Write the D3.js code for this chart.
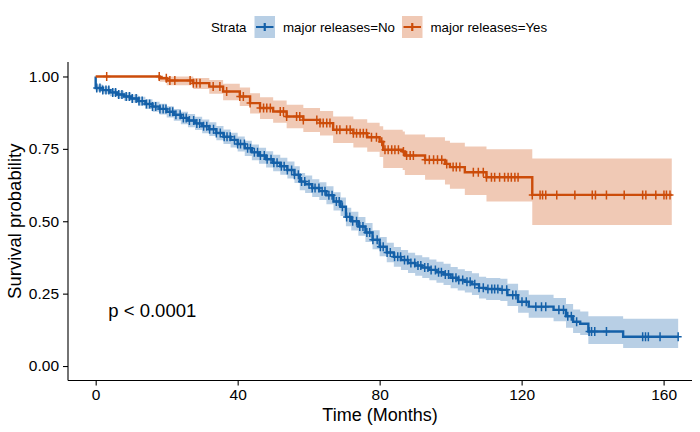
<!DOCTYPE html>
<html>
<head>
<meta charset="utf-8">
<script src="https://cdn.jsdelivr.net/npm/d3@7"></script>
<style>
  body { margin: 0; background: #fff; }
  svg { font-family: "Liberation Sans", Arial, sans-serif; }
</style>
</head>
<body>
<div id="chart"></div>
<script>
// Kaplan-Meier curves

const strataNames = ["major releases=No", "major releases=Yes"];
const strataColors = ["#1460a8", "#cc4c0a"];

// strata "No"
const noTime = [0, 0, 2, 4, 6, 8, 10, 12, 14, 16, 18, 20, 22, 24, 26, 28, 30, 32, 34, 36, 38, 40,
  42, 44, 46, 48, 50, 52, 54, 56, 57.5, 59, 61, 63, 65, 67, 69, 70.5, 72, 74, 76, 78, 80, 82, 84,
  86, 88, 90, 92, 94, 96, 98, 100, 102, 104, 106, 108, 110, 114, 116, 119, 122, 129, 132.5, 134.5,
  136.5, 138.8, 148.6];
const noSurv = [1.000, 0.960, 0.953, 0.945, 0.938, 0.931, 0.924, 0.915, 0.905, 0.896, 0.888, 0.878,
  0.868, 0.857, 0.848, 0.838, 0.828, 0.818, 0.805, 0.792, 0.781, 0.767, 0.752, 0.738, 0.727, 0.714,
  0.702, 0.690, 0.677, 0.661, 0.637, 0.628, 0.615, 0.604, 0.590, 0.568, 0.550, 0.515, 0.500, 0.482,
  0.461, 0.436, 0.412, 0.392, 0.377, 0.366, 0.356, 0.347, 0.340, 0.332, 0.324, 0.316, 0.305, 0.297,
  0.291, 0.282, 0.270, 0.266, 0.263, 0.245, 0.222, 0.205, 0.194, 0.172, 0.153, 0.146, 0.119, 0.101];
const noLower = [1.000, 0.948, 0.940, 0.932, 0.924, 0.916, 0.909, 0.899, 0.888, 0.878, 0.869, 0.858,
  0.847, 0.835, 0.825, 0.815, 0.804, 0.794, 0.780, 0.767, 0.755, 0.741, 0.725, 0.711, 0.699, 0.686,
  0.673, 0.661, 0.648, 0.632, 0.607, 0.598, 0.584, 0.573, 0.559, 0.537, 0.518, 0.483, 0.468, 0.450,
  0.428, 0.403, 0.379, 0.358, 0.343, 0.332, 0.321, 0.312, 0.304, 0.296, 0.288, 0.280, 0.269, 0.261,
  0.254, 0.245, 0.233, 0.228, 0.225, 0.207, 0.184, 0.167, 0.155, 0.132, 0.114, 0.107, 0.076, 0.062];
const noUpper = [1.000, 0.972, 0.965, 0.958, 0.951, 0.945, 0.938, 0.930, 0.921, 0.913, 0.906, 0.897,
  0.888, 0.878, 0.870, 0.861, 0.851, 0.842, 0.829, 0.817, 0.806, 0.793, 0.778, 0.765, 0.754, 0.742,
  0.730, 0.719, 0.706, 0.690, 0.667, 0.658, 0.645, 0.635, 0.621, 0.600, 0.582, 0.547, 0.533, 0.515,
  0.494, 0.469, 0.446, 0.426, 0.411, 0.401, 0.391, 0.383, 0.376, 0.368, 0.360, 0.353, 0.342, 0.334,
  0.328, 0.320, 0.308, 0.304, 0.301, 0.284, 0.262, 0.246, 0.235, 0.214, 0.195, 0.188, 0.172, 0.163];
const noEnd = 164.1;
const noCensor = [0.3, 1.2, 2.0, 2.9, 3.7, 4.8, 5.6, 6.5, 7.4, 8.6, 9.5, 10.3, 11.4, 12.2, 13.1, 14.3,
  15.2, 16.0, 16.9, 18.1, 19.0, 19.8, 20.9, 21.7, 22.6, 23.8, 24.7, 25.5, 26.4, 27.6, 28.5, 29.3,
  30.4, 31.3, 32.1, 33.2, 34.0, 35.1, 36.2, 37.0, 37.9, 39.1, 40.0, 40.8, 41.9, 42.8, 43.6, 44.7,
  45.6, 46.4, 47.5, 48.3, 49.4, 50.2, 51.1, 52.3, 53.1, 54.0, 55.2, 56.0, 57.1, 58.0, 58.9, 60.1,
  61.0, 61.8, 62.9, 63.8, 64.6, 65.7, 66.6, 67.8, 68.6, 69.5, 70.7, 71.6, 72.4, 73.5, 74.4, 75.3,
  76.4, 77.2, 78.1, 79.3, 80.2, 81.0, 82.1, 83.0, 84.2, 85.1, 85.9, 87.0, 87.9, 88.8, 89.9, 90.8,
  91.6, 92.7, 93.6, 94.5, 95.7, 96.6, 97.4, 98.5, 99.4, 100.6, 101.5, 102.3, 103.4, 104.6, 105.5,
  106.8, 108.0, 109.2, 110.5, 111.6, 112.4, 113.3, 114.5, 115.8, 117.5, 118.4, 120.1, 121.3, 124.0,
  125.6, 126.8, 130.5, 131.8, 133.0, 134.0, 135.5, 139.0, 139.7, 140.6, 143.9, 154.1, 154.9, 155.7,
  159.0, 164.1];

// strata "Yes"
const yesTime = [0, 18, 20, 27.5, 32, 35.9, 40.6, 43.5, 46.3, 50, 53.8, 58.5, 63.2, 66.9, 72.6, 76.5,
  80, 81, 86.5, 87.1, 92.8, 98.4, 99.8, 104, 110.1, 123];
const yesSurv = [1.000, 0.994, 0.986, 0.977, 0.965, 0.948, 0.931, 0.908, 0.891, 0.879, 0.862, 0.850,
  0.839, 0.816, 0.804, 0.790, 0.775, 0.747, 0.741, 0.727, 0.712, 0.698, 0.687, 0.669, 0.652, 0.591];
const yesLower = [1.000, 0.982, 0.970, 0.957, 0.940, 0.918, 0.898, 0.872, 0.853, 0.840, 0.821, 0.808,
  0.796, 0.770, 0.755, 0.740, 0.722, 0.684, 0.677, 0.660, 0.643, 0.627, 0.612, 0.591, 0.568, 0.487];
const yesUpper = [1.000, 1.000, 1.000, 0.995, 0.988, 0.975, 0.962, 0.942, 0.928, 0.917, 0.902, 0.891,
  0.881, 0.862, 0.852, 0.840, 0.828, 0.816, 0.810, 0.800, 0.790, 0.778, 0.771, 0.758, 0.749, 0.717];
const yesEnd = 162.3;
const yesCensor = [3.1, 17.9, 19.9, 20.9, 22.3, 26.6, 27.5, 28.4, 29.4, 33.1, 35.0, 36.9, 40.6, 41.6,
  43.5, 46.3, 47.3, 48.2, 49.2, 52.0, 52.9, 53.8, 56.6, 57.5, 58.5, 62.3, 63.2, 64.1, 65.1, 66.0,
  67.9, 68.8, 70.7, 71.7, 72.6, 73.5, 74.5, 75.4, 76.3, 77.7, 79.1, 80.6, 81.5, 82.4, 83.4, 84.3,
  85.3, 86.7, 87.6, 88.6, 89.5, 92.8, 94.0, 95.2, 96.3, 97.5, 98.9, 100.7, 101.6, 102.6, 106.4,
  107.8, 109.2, 110.1, 111.5, 112.4, 113.8, 115.2, 116.2, 117.1, 118.1, 119.0, 123.0, 125.2, 125.9,
  126.8, 129.9, 135.0, 139.9, 140.8, 143.9, 148.9, 154.1, 155.0, 157.8, 160.1, 160.8, 161.8];

const xTicks = [0, 40, 80, 120, 160];
const yTicks = [0, 0.25, 0.5, 0.75, 1];
const pLabel = "p < 0.0001";

const width = 700, height = 432;
const margin = { top: 62, right: 8, bottom: 51.5, left: 68 };

const svg = d3.select("#chart").append("svg")
  .attr("width", width)
  .attr("height", height);

const x = d3.scaleLinear().domain([-7.8, 168]).range([margin.left, width - margin.right]);
const y = d3.scaleLinear().domain([-0.05, 1.05]).range([height - margin.bottom, margin.top]);

function makeStrata(times, surv, lower, upper, end) {
  const pts = times.map((t, i) => ({ t: t, s: surv[i], lo: lower[i], hi: upper[i] }));
  const last = pts[pts.length - 1];
  pts.push({ t: end, s: last.s, lo: last.lo, hi: last.hi });
  return pts;
}

function survAt(pts, t) {
  let s = pts[0].s;
  pts.forEach((p) => { if (p.t <= t) s = p.s; });
  return s;
}

const strata = [
  { pts: makeStrata(noTime, noSurv, noLower, noUpper, noEnd), censor: noCensor },
  { pts: makeStrata(yesTime, yesSurv, yesLower, yesUpper, yesEnd), censor: yesCensor }
];

const band = d3.area()
  .x((d) => x(d.t))
  .y0((d) => y(d.lo))
  .y1((d) => y(d.hi))
  .curve(d3.curveStepAfter);

const line = d3.line()
  .x((d) => x(d.t))
  .y((d) => y(d.s))
  .curve(d3.curveStepAfter);

// confidence bands
strata.forEach((st, i) => {
  svg.append("path")
    .attr("d", band(st.pts))
    .attr("fill", strataColors[i])
    .attr("fill-opacity", 0.3);
});

// survival steps + censor marks
strata.forEach((st, i) => {
  svg.append("path")
    .attr("d", line(st.pts))
    .attr("fill", "none")
    .attr("stroke", strataColors[i])
    .attr("stroke-width", 2.4);

  const marks = svg.append("g");
  st.censor.forEach((t) => {
    const cx = x(t), cy = y(survAt(st.pts, t));
    marks.append("path")
      .attr("d", `M${cx - 3.5},${cy}H${cx + 3.5}M${cx},${cy - 4.5}V${cy + 4.5}`)
      .attr("stroke", strataColors[i])
      .attr("stroke-width", 1.5)
      .attr("fill", "none");
  });
});

// axes
const xAxis = svg.append("g")
  .attr("transform", `translate(0,${height - margin.bottom})`)
  .call(d3.axisBottom(x).tickValues(xTicks).tickSize(5).tickSizeOuter(0).tickPadding(3.5));
const yAxis = svg.append("g")
  .attr("transform", `translate(${margin.left},0)`)
  .call(d3.axisLeft(y).tickValues(yTicks).tickFormat(d3.format(".2f")).tickSize(5).tickSizeOuter(0).tickPadding(4));

[xAxis, yAxis].forEach((ax) => {
  ax.select(".domain").attr("stroke", "#000").attr("stroke-width", 1.1);
  ax.selectAll(".tick line").attr("stroke", "#000").attr("stroke-width", 1.1);
  ax.selectAll(".tick text")
    .attr("fill", "#000")
    .style("font-size", "15.5px")
    .style("font-family", "Liberation Sans, Arial, sans-serif");
});
// axis lines span the whole panel, as in ggplot
xAxis.select(".domain").attr("d", `M${margin.left},0H${width - margin.right}`);
yAxis.select(".domain").attr("d", `M0,${height - margin.bottom}V${margin.top}`);

svg.append("text")
  .attr("x", (margin.left + width - margin.right) / 2)
  .attr("y", 420.5)
  .attr("text-anchor", "middle")
  .style("font-size", "18px")
  .text("Time (Months)");

svg.append("text")
  .attr("transform", `translate(21,${(margin.top + height - margin.bottom) / 2}) rotate(-90)`)
  .attr("text-anchor", "middle")
  .style("font-size", "18.5px")
  .text("Survival probability");

svg.append("text")
  .attr("x", 108.3)
  .attr("y", 316.5)
  .style("font-size", "18.5px")
  .text(pLabel);

// legend
const legend = svg.append("g").style("font-size", "13.3px");
legend.append("text").attr("x", 211).attr("y", 31.5).text("Strata");
const keyX = [254.5, 402];
strataNames.forEach((name, i) => {
  const k = legend.append("g").attr("transform", `translate(${keyX[i]},16)`);
  k.append("rect")
    .attr("width", 20.5).attr("height", 22)
    .attr("fill", strataColors[i]).attr("fill-opacity", 0.3);
  k.append("path")
    .attr("d", "M1.5,11H19M10.25,7V15")
    .attr("stroke", strataColors[i])
    .attr("stroke-width", 2.2);
  legend.append("text")
    .attr("x", keyX[i] + 28.5)
    .attr("y", 31.5)
    .text(name);
});
</script>
</body>
</html>
